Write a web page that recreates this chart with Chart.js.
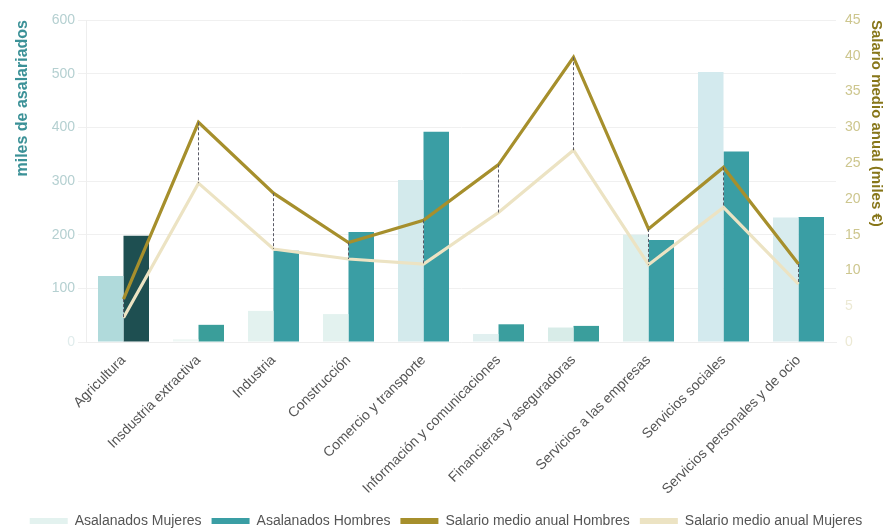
<!DOCTYPE html>
<html>
<head>
<meta charset="utf-8">
<script src="https://cdn.jsdelivr.net/npm/chart.js@4.4.1/dist/chart.umd.min.js"></script>
<style>
  html, body { margin: 0; padding: 0; background: #fff; }
  #wrap { width: 892px; height: 528px; }
</style>
</head>
<body>
<div id="wrap"><canvas id="chart" width="892" height="528"></canvas></div>
<script>
let categorias = ["Agricultura", "Insdustria extractiva", "Industria", "Construcción",
  "Comercio y transporte", "Información y comunicaciones", "Financieras y aseguradoras",
  "Servicios a las empresas", "Servicios sociales", "Servicios personales y de ocio"];

let asalariadosMujeres = [123, 5, 58, 52, 302, 15, 27, 200, 503, 232];
let asalariadosHombres = [198, 32, 170, 205, 392, 33, 30, 190, 355, 233];
let salarioHombres = [6.0, 30.7, 20.8, 13.9, 17.0, 24.8, 39.8, 15.8, 24.4, 10.9];
let salarioMujeres = [3.4, 22.2, 13.0, 11.6, 10.9, 18.1, 26.8, 10.8, 18.8, 8.1];

let ticksIzq = [0, 100, 200, 300, 400, 500, 600];
let ticksDer = [0, 5, 10, 15, 20, 25, 30, 35, 40, 45];

let colorMujeres = ["#b0dadb", "#eef7f4", "#e3f2ef", "#e3f2ef", "#d3eaec",
  "#e1f0f0", "#d8ece8", "#dcefed", "#d3eaee", "#d8ecee"];
let colorHombres = ["#1e4f51", "#3a9e9a", "#3a9ea4", "#3a9ea4", "#3a9ea4",
  "#3a9e9e", "#3a9e9c", "#3a9ea4", "#3a9ea4", "#3a9ea4"];

let legendColors = ["#e3f2ef", "#3a9ea4", "#a68f2c", "#ece3c3"];

// lineas discontinuas entre salario hombres y mujeres
let dropLines = {
  id: "dropLines",
  afterDatasetsDraw: function(chart) {
    let ctx = chart.ctx;
    let x = chart.scales.x;
    let y = chart.scales.y2;
    ctx.save();
    ctx.strokeStyle = "#5a5a66";
    ctx.lineWidth = 1;
    ctx.setLineDash([3, 2]);
    for (let i = 0; i < categorias.length; i++) {
      let px = x.getPixelForValue(i);
      ctx.beginPath();
      ctx.moveTo(px, y.getPixelForValue(salarioHombres[i]));
      ctx.lineTo(px, y.getPixelForValue(salarioMujeres[i]));
      ctx.stroke();
    }
    ctx.restore();
  }
};

// baja un poco la leyenda
let legendShift = {
  id: "legendShift",
  afterLayout: function(chart) {
    chart.legend.top += 10;
    chart.legend.bottom += 10;
  }
};

let ctx = document.getElementById("chart").getContext("2d");
new Chart(ctx, {
  type: "bar",
  data: {
    labels: categorias,
    datasets: [
      {
        label: "Asalanados Mujeres",
        data: asalariadosMujeres,
        backgroundColor: colorMujeres,
        yAxisID: "y",
        order: 2
      },
      {
        label: "Asalanados Hombres",
        data: asalariadosHombres,
        backgroundColor: colorHombres,
        yAxisID: "y",
        order: 2
      },
      {
        type: "line",
        label: "Salario medio anual Hombres",
        data: salarioHombres,
        borderColor: "#a68f2c",
        backgroundColor: "#a68f2c",
        borderWidth: 3.2,
        pointRadius: 0,
        tension: 0,
        yAxisID: "y2",
        order: 0
      },
      {
        type: "line",
        label: "Salario medio anual Mujeres",
        data: salarioMujeres,
        borderColor: "#ece3c3",
        backgroundColor: "#ece3c3",
        borderWidth: 3.2,
        pointRadius: 0,
        tension: 0,
        yAxisID: "y2",
        order: 1
      }
    ]
  },
  options: {
    responsive: false,
    animation: false,
    layout: { padding: { top: 20, left: 0, right: 0, bottom: 0 } },
    datasets: {
      bar: { categoryPercentage: 0.68, barPercentage: 1.0 }
    },
    plugins: {
      legend: {
        position: "bottom",
        labels: {
          boxWidth: 38,
          boxHeight: 6,
          padding: 10,
          color: "#555",
          font: { family: "'Liberation Sans', Arial", size: 14 },
          sort: function(a, b) { return a.datasetIndex - b.datasetIndex; },
          generateLabels: function(chart) {
            let items = Chart.defaults.plugins.legend.labels.generateLabels(chart);
            items.forEach(function(it) {
              it.fillStyle = legendColors[it.datasetIndex];
              it.strokeStyle = legendColors[it.datasetIndex];
              it.lineWidth = 0;
            });
            return items;
          }
        }
      },
      tooltip: { enabled: false }
    },
    scales: {
      x: {
        grid: { display: false },
        border: { display: true, color: "#eee" },
        ticks: {
          color: "#555",
          maxRotation: 45,
          minRotation: 45,
          autoSkip: false,
          padding: 2,
          font: { family: "'Liberation Sans', Arial", size: 14 }
        },
        afterFit: function(scale) { scale.height = 152; }
      },
      y: {
        position: "left",
        min: 0,
        max: 600,
        afterBuildTicks: function(scale) {
          scale.ticks = ticksIzq.map(function(v) { return { value: v }; });
        },
        grid: { color: "#f0f0f0" },
        border: { display: true, color: "#eee" },
        ticks: {
          color: function(c) { return c.tick.value === 0 ? "#e0ecec" : "#b5d0d1"; },
          padding: 3,
          font: { family: "'Liberation Sans', Arial", size: 14 }
        },
        title: {
          display: true,
          text: "miles de asalariados",
          align: "end",
          color: "#3b9197",
          padding: { top: 13, bottom: 0 },
          font: { family: "'Liberation Sans', Arial", size: 16, weight: "bold" }
        },
        afterFit: function(scale) { scale.width = 86; }
      },
      y2: {
        position: "right",
        min: 0,
        max: 45,
        afterBuildTicks: function(scale) {
          scale.ticks = ticksDer.map(function(v) { return { value: v }; });
        },
        grid: { display: false },
        border: { display: false },
        ticks: {
          color: function(c) { return c.tick.value <= 5 ? "#ece9d4" : "#cdc68e"; },
          padding: 1,
          font: { family: "'Liberation Sans', Arial", size: 14 }
        },
        title: {
          display: true,
          text: "Salario medio anual (miles €)",
          align: "end",
          color: "#877619",
          padding: { top: 7, bottom: 0 },
          font: { family: "'Liberation Sans', Arial", size: 15, weight: "bold" }
        },
        afterFit: function(scale) { scale.width = 56; }
      }
    }
  },
  plugins: [dropLines, legendShift]
});
</script>
</body>
</html>
